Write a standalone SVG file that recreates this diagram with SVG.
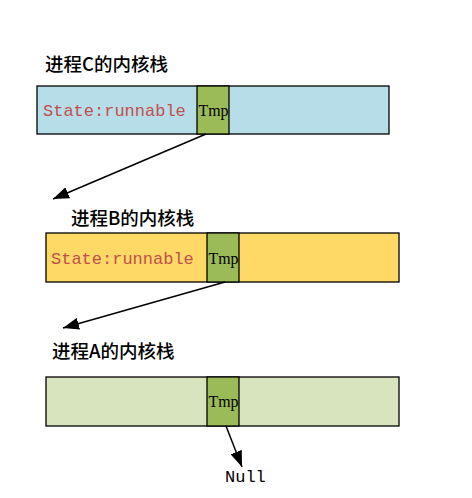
<svg xmlns="http://www.w3.org/2000/svg" width="472" height="498" viewBox="0 0 472 498">
<style>
.lbl{font-family:"Noto Sans CJK SC","Liberation Serif",serif;font-size:18.5px;font-weight:500;fill:#000}
.st{font-family:"Liberation Mono",monospace;font-size:17px;fill:#C0504D}
.tmp{font-family:"Liberation Serif",serif;font-size:17px;fill:#000}
.box{stroke:#000;stroke-width:1.3}
.con{stroke:#000;stroke-width:1.5;fill:none;marker-end:url(#ah)}
</style>
<defs>
<marker id="ah" viewBox="0 0 16 12" refX="16" refY="6" markerWidth="16" markerHeight="12" markerUnits="userSpaceOnUse" orient="auto">
<path d="M0,0 L16,6 L0,12 Z" fill="#000"/>
</marker>
</defs>
<rect width="472" height="498" fill="#fff"/>
<g id="stackC">
<text class="lbl" x="45" y="71">进程C的内核栈</text>
<rect class="box" x="37" y="86" width="352" height="48" fill="#B7DDE8"/>
<rect class="box" x="197" y="86" width="32" height="48" fill="#9BBB59"/>
<text class="st" x="43" y="116">State:runnable</text>
<text class="tmp" x="198.5" y="116" textLength="30" lengthAdjust="spacingAndGlyphs">Tmp</text>
</g>
<g id="stackB">
<text class="lbl" x="71" y="225">进程B的内核栈</text>
<rect class="box" x="46" y="233" width="353" height="49" fill="#FFD966"/>
<rect class="box" x="207" y="233" width="32" height="49" fill="#9BBB59"/>
<text class="st" x="51" y="264">State:runnable</text>
<text class="tmp" x="208.5" y="264" textLength="30" lengthAdjust="spacingAndGlyphs">Tmp</text>
</g>
<g id="stackA">
<text class="lbl" x="52" y="358">进程A的内核栈</text>
<rect class="box" x="46" y="377" width="353" height="49" fill="#D7E4BD"/>
<rect class="box" x="207" y="377" width="32" height="49" fill="#9BBB59"/>
<text class="tmp" x="208.5" y="407" textLength="30" lengthAdjust="spacingAndGlyphs">Tmp</text>
</g>
<g id="null">
<text x="225" y="482" style="font-family:'Liberation Mono',monospace;font-size:17px;fill:#000">Null</text>
</g>
<g id="connectors">
<line class="con" x1="206" y1="134" x2="53" y2="199"/>
<line class="con" x1="225" y1="282" x2="63" y2="328"/>
<line class="con" x1="226" y1="426" x2="242" y2="467"/>
</g>
</svg>
